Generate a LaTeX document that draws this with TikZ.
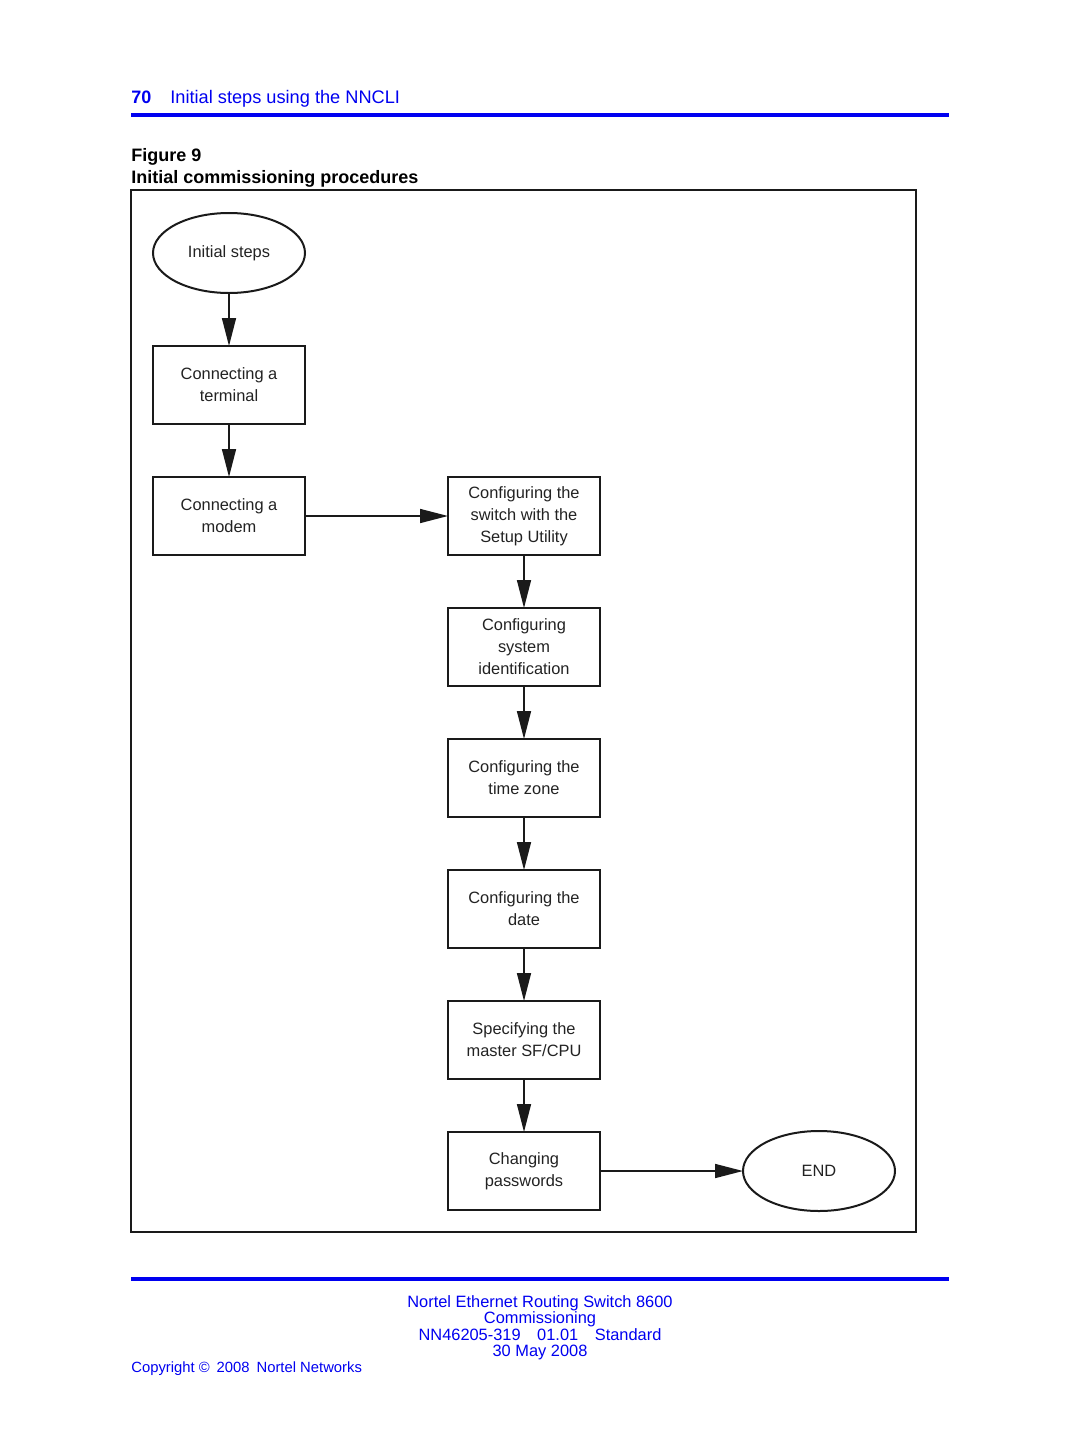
\documentclass[tikz,border=0pt]{standalone}
\usepackage{fontspec}
\setmainfont{Liberation Sans}
\usepackage{xcolor}
\definecolor{cBlue}{HTML}{0000F0}
\definecolor{cLine}{HTML}{1A1A1A}
\definecolor{cText}{HTML}{222222}
\usetikzlibrary{positioning,arrows.meta,shapes.geometric}
\tikzset{
  step-box/.style={draw=cLine,line width=1pt,rectangle,inner sep=0pt,outer sep=0pt,
    minimum width=76pt,minimum height=39pt,align=center,text=cText,
    font=\fontsize{8.2}{11}\selectfont},
  step-oval/.style={draw=cLine,line width=1pt,ellipse,inner sep=0pt,outer sep=0pt,
    minimum width=76pt,minimum height=40pt,align=center,text=cText,
    font=\fontsize{8.2}{11}\selectfont},
  arrow/.style={-{Triangle[length=14pt,width=7pt]},line width=0.8pt,draw=cLine},
  page-rule/.style={draw=cBlue,line width=2pt},
  page-text/.style={text=cBlue,inner sep=0pt},
}

\begin{document}
\begin{tikzpicture}[x=0.5pt,y=-0.5pt,node distance=26.5pt and 71.5pt]
  \useasboundingbox (0,0) rectangle (1080,1440);
  % header
  \node[page-text,anchor=base west,font=\fontsize{9}{11}\selectfont\bfseries] (pgno) at (131,103) {70};
  \node[page-text,anchor=base west,font=\fontsize{9.1}{11}\selectfont] (chap) at (170,103) {Initial steps using the NNCLI};
  \draw[page-rule] (131,115) -- (949,115);
  \node[anchor=base west,inner sep=0pt,font=\fontsize{9}{11}\selectfont\bfseries] (fignum) at (131,161) {Figure 9};
  \node[anchor=base west,inner sep=0pt,font=\fontsize{9}{11}\selectfont\bfseries] (figtitle) at (131,183) {Initial commissioning procedures};
  \draw[line width=1pt,draw=cLine] (131,190) rectangle (916,1232);
  % flow
  \node[step-oval] (init) at (229,253) {Initial steps};
  \node[step-box,below=of init] (term) {Connecting a\\terminal};
  \node[step-box,below=of term] (modem) {Connecting a\\modem};
  \node[step-box,right=of modem] (setup) {Configuring the\\switch with the\\Setup Utility};
  \node[step-box,below=of setup] (sysid) {Configuring\\system\\identification};
  \node[step-box,below=of sysid] (tzone) {Configuring the\\time zone};
  \node[step-box,below=of tzone] (date) {Configuring the\\date};
  \node[step-box,below=of date] (master) {Specifying the\\master SF/CPU};
  \node[step-box,below=of master] (passwd) {Changing\\passwords};
  \node[step-oval,right=of passwd] (done) {END};
  \draw[arrow] (init) -- (term);
  \draw[arrow] (term) -- (modem);
  \draw[arrow] (modem) -- (setup);
  \draw[arrow] (setup) -- (sysid);
  \draw[arrow] (sysid) -- (tzone);
  \draw[arrow] (tzone) -- (date);
  \draw[arrow] (date) -- (master);
  \draw[arrow] (master) -- (passwd);
  \draw[arrow] (passwd) -- (done);
  % footer
  \draw[page-rule] (131,1279) -- (949,1279);
  \node[page-text,anchor=base,font=\fontsize{8.2}{10}\selectfont] (foot1) at (540,1307) {Nortel Ethernet Routing Switch 8600};
  \node[page-text,anchor=base,font=\fontsize{8.2}{10}\selectfont] (foot2) at (540,1323) {Commissioning};
  \node[page-text,anchor=base,font=\fontsize{8.2}{10}\selectfont] (foot3) at (540,1340) {NN46205-319\hspace{6pt} 01.01\hspace{6pt} Standard};
  \node[page-text,anchor=base,font=\fontsize{8.2}{10}\selectfont] (foot4) at (540,1356) {30 May 2008};
  \node[page-text,anchor=base west,font=\fontsize{7.4}{9}\selectfont] (copy) at (131,1372) {Copyright \copyright\hspace{3.5pt}2008\hspace{3.5pt}Nortel Networks};
\end{tikzpicture}
\end{document}
